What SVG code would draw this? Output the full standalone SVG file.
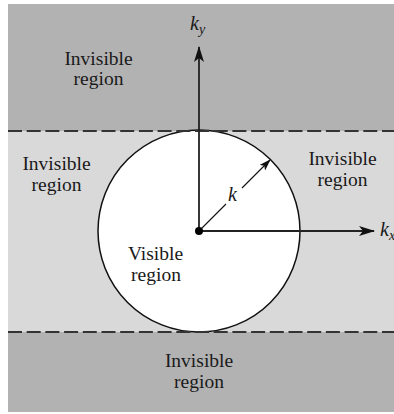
<svg xmlns="http://www.w3.org/2000/svg" width="394" height="414" viewBox="0 0 394 414">
<defs>
<style>
.lbl{font-family:"Liberation Serif","Times New Roman",serif;font-size:19.5px;fill:#1a1a1a;text-anchor:middle}
.var{font-family:"Liberation Serif","Times New Roman",serif;font-style:italic;font-size:20px;fill:#1a1a1a}
.sub{font-family:"Liberation Serif","Times New Roman",serif;font-style:italic;font-size:14px;fill:#1a1a1a}
.dash{stroke:#333;stroke-width:2;stroke-dasharray:14 4.7;fill:none}
.axis{stroke:#222;stroke-width:1.8;fill:none}
</style>
<marker id="ah" viewBox="0 0 16 10" refX="15" refY="5" markerWidth="16" markerHeight="10" markerUnits="userSpaceOnUse" orient="auto">
<path d="M0,0 L16,5 L0,10 L4,5 Z" fill="#111"/>
</marker>
<marker id="ahs" viewBox="0 0 12 8" refX="11" refY="4" markerWidth="12" markerHeight="8" markerUnits="userSpaceOnUse" orient="auto">
<path d="M0,0 L12,4 L0,8 L3,4 Z" fill="#111"/>
</marker>
</defs>
<rect x="0" y="0" width="394" height="414" fill="#ffffff"/>
<g id="outer-regions">
<rect x="8" y="4" width="386" height="408" fill="#b2b2b2"/>
</g>
<g id="band">
<rect x="8" y="131" width="386" height="201" fill="#d9d9d9"/>
</g>
<g id="visible-circle">
<circle cx="199" cy="231" r="101" fill="#ffffff" stroke="#111" stroke-width="1.5"/>
</g>
<g id="boundaries">
<line class="dash" x1="8" y1="131" x2="394" y2="131"/>
<line class="dash" x1="8" y1="332" x2="394" y2="332"/>
</g>
<g id="connectors">
<line class="axis" x1="199" y1="231" x2="199" y2="47" marker-end="url(#ah)"/>
<line class="axis" x1="199" y1="231" x2="374" y2="231" marker-end="url(#ah)"/>
<line x1="199" y1="231" x2="226" y2="204" stroke="#111" stroke-width="1.1"/>
<line x1="242" y1="188" x2="270" y2="160" stroke="#111" stroke-width="1.1" marker-end="url(#ahs)"/>
<circle cx="199" cy="231" r="4" fill="#000"/>
</g>
<g id="label-ky">
<text class="var" x="190" y="30">k</text><text class="sub" x="199" y="34">y</text>
</g>
<g id="label-kx">
<text class="var" x="380" y="236">k</text><text class="sub" x="389" y="240">x</text>
</g>
<g id="label-k">
<text class="var" x="228" y="201">k</text>
</g>
<g id="top-region">
<text class="lbl" x="98.5" y="65">Invisible</text>
<text class="lbl" x="98.5" y="85">region</text>
</g>
<g id="left-region">
<text class="lbl" x="56.5" y="170">Invisible</text>
<text class="lbl" x="56.5" y="191">region</text>
</g>
<g id="right-region">
<text class="lbl" x="342.5" y="165">Invisible</text>
<text class="lbl" x="342.5" y="186">region</text>
</g>
<g id="visible-region">
<text class="lbl" x="155.5" y="260">Visible</text>
<text class="lbl" x="156" y="281">region</text>
</g>
<g id="bottom-region">
<text class="lbl" x="199" y="367">Invisible</text>
<text class="lbl" x="199" y="388">region</text>
</g>
</svg>
